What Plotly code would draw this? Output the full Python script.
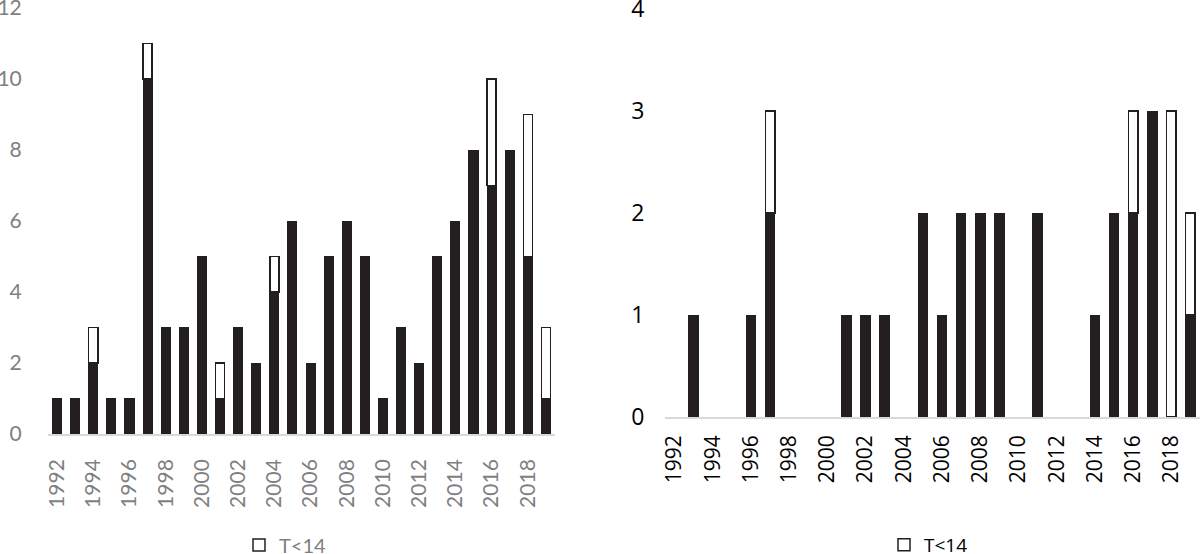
import plotly.graph_objects as go

years = list(range(1992, 2020))
tick_years = list(range(1992, 2019, 2))

left_black = [1, 1, 2, 1, 1, 10, 3, 3, 5, 1, 3, 2, 4, 6, 2, 5, 6, 5, 1, 3, 2, 5, 6, 8, 7, 8, 5, 1]
left_white = [0, 0, 1, 0, 0, 1, 0, 0, 0, 1, 0, 0, 1, 0, 0, 0, 0, 0, 0, 0, 0, 0, 0, 0, 3, 0, 4, 2]

right_black = [0, 1, 0, 0, 1, 2, 0, 0, 0, 1, 1, 1, 0, 2, 1, 2, 2, 2, 0, 2, 0, 0, 1, 2, 2, 3, 0, 1]
right_white = [0, 0, 0, 0, 0, 1, 0, 0, 0, 0, 0, 0, 0, 0, 0, 0, 0, 0, 0, 0, 0, 0, 0, 0, 1, 0, 3, 1]

legend_label = "T<14"

DARK = "#231f20"
LEFT_FONT = "Lato"
RIGHT_FONT = "Open Sans"
GRAY = "#7f7f7f"


def nz(vals):
    # zero-height segments are not drawn
    return [v if v else None for v in vals]


fig = go.Figure()

fig.add_trace(go.Bar(x=years, y=nz(left_black), marker=dict(color=DARK, line=dict(color=DARK, width=1)),
                     showlegend=False, xaxis="x", yaxis="y", width=0.5))
fig.add_trace(go.Bar(x=years, y=nz(left_white), marker=dict(color="white", line=dict(color=DARK, width=1.5)),
                     name=legend_label, legend="legend", xaxis="x", yaxis="y", width=0.5))

fig.add_trace(go.Bar(x=years, y=nz(right_black), marker=dict(color=DARK, line=dict(color=DARK, width=1)),
                     showlegend=False, xaxis="x2", yaxis="y2", width=0.5))
fig.add_trace(go.Bar(x=years, y=nz(right_white), marker=dict(color="white", line=dict(color=DARK, width=1.5)),
                     name=legend_label, legend="legend2", xaxis="x2", yaxis="y2", width=0.5))

W, H = 1200, 554


def px_x(p):
    return p / W


def px_y(p):
    return 1 - p / H


fig.update_layout(
    width=W, height=H,
    margin=dict(l=0, r=0, t=0, b=0, autoexpand=False),
    barmode="stack",
    plot_bgcolor="white",
    paper_bgcolor="white",
    xaxis=dict(domain=[px_x(48), px_x(555)], range=[1991.5, 2019.5],
               tickvals=tick_years, ticktext=[str(y) for y in tick_years],
               tickangle=-90, showgrid=False, zeroline=False, automargin=False,
               showline=True, linecolor="#d9d9d9", linewidth=1.5,
               ticks="outside", ticklen=15, tickcolor="rgba(0,0,0,0)",
               ticklabeloverflow="allow",
               tickfont=dict(family=LEFT_FONT, size=21, color=GRAY), anchor="y"),
    yaxis=dict(domain=[px_y(434), px_y(8)], range=[0, 12], dtick=2,
               showgrid=False, zeroline=False, showline=False, automargin=False,
               ticks="outside", ticklen=21, tickcolor="rgba(0,0,0,0)",
               ticklabeloverflow="allow",
               tickfont=dict(family=LEFT_FONT, size=21, color=GRAY), anchor="x"),
    xaxis2=dict(domain=[px_x(665), 1.0], range=[1991.5, 2019.5],
                tickvals=tick_years, ticktext=[str(y) for y in tick_years],
                tickangle=-90, showgrid=False, zeroline=False, automargin=False,
                showline=True, linecolor="#d9d9d9", linewidth=1.5,
                ticks="outside", ticklen=8, tickcolor="rgba(0,0,0,0)",
                ticklabeloverflow="allow",
                tickfont=dict(family=RIGHT_FONT, size=21, color="black"), anchor="y2"),
    yaxis2=dict(domain=[px_y(417), px_y(9)], range=[0, 4], dtick=1,
                showgrid=False, zeroline=False, showline=False, automargin=False,
                ticks="outside", ticklen=15, tickcolor="rgba(0,0,0,0)",
                ticklabeloverflow="allow",
                tickfont=dict(family=RIGHT_FONT, size=23, color="black"), anchor="x2"),
    legend=dict(x=px_x(332), y=px_y(545), xanchor="right", yanchor="middle",
                orientation="h", itemwidth=30, bgcolor="rgba(0,0,0,0)",
                font=dict(family=LEFT_FONT, size=20, color=GRAY)),
    legend2=dict(x=px_x(973), y=px_y(545), xanchor="right", yanchor="middle",
                 orientation="h", itemwidth=30, bgcolor="rgba(0,0,0,0)",
                 font=dict(family=RIGHT_FONT, size=19, color="black")),
)

# the page's default 8px body margin would push the 1200x554 figure off the window
fig.write_html("out.html", config={"displayModeBar": False},
               post_script="document.body.style.margin='0px';document.body.style.overflow='hidden';")
